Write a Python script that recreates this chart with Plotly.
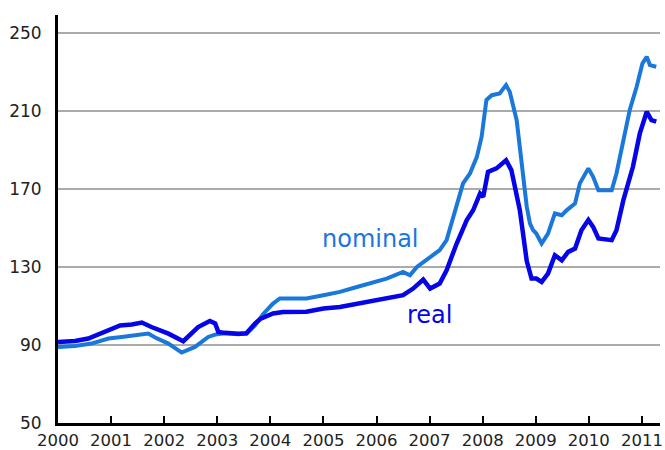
import plotly.graph_objects as go

# decimal-year positions and index values
nominal_t = [2000.00, 2000.32, 2000.63, 2000.95, 2001.20, 2001.51, 2001.70, 2001.83, 2002.08, 2002.33,
             2002.58, 2002.83, 2002.96, 2003.14, 2003.40, 2003.55, 2003.71, 2003.87, 2004.05, 2004.18,
             2004.68, 2005.00, 2005.31, 2005.63, 2005.94, 2006.19, 2006.50, 2006.63, 2006.76, 2006.94,
             2007.19, 2007.32, 2007.44, 2007.63, 2007.76, 2007.89, 2007.98, 2008.07, 2008.17, 2008.32,
             2008.44, 2008.51, 2008.64, 2008.76, 2008.83, 2008.89, 2008.95, 2009.01, 2009.11, 2009.23,
             2009.36, 2009.49, 2009.58, 2009.74, 2009.83, 2009.99, 2010.08, 2010.18, 2010.43, 2010.52,
             2010.65, 2010.77, 2010.90, 2011.01, 2011.09, 2011.15, 2011.27]
nominal_v = [89.0, 89.5, 90.7, 93.3, 94.1, 95.3, 95.8, 93.8, 90.7, 86.1,
             89.0, 94.1, 95.3, 96.0, 95.5, 95.8, 100.0, 106.0, 111.2, 113.8,
             113.8, 115.5, 117.2, 119.7, 122.3, 124.0, 127.4, 125.7, 130.0, 133.4,
             138.6, 143.7, 155.6, 172.8, 177.9, 186.4, 196.7, 215.5, 218.0, 218.9,
             223.2, 219.7, 205.2, 179.6, 160.8, 152.3, 148.8, 147.1, 142.0, 147.1,
             157.4, 156.5, 159.0, 162.5, 172.8, 180.5, 176.2, 169.3, 169.3, 177.9,
             195.0, 210.4, 222.3, 234.3, 237.7, 233.4, 232.6]

real_t = [2000.00, 2000.32, 2000.57, 2000.89, 2001.17, 2001.39, 2001.58, 2001.76, 2002.08, 2002.36,
          2002.64, 2002.86, 2002.96, 2003.02, 2003.14, 2003.40, 2003.55, 2003.71, 2003.82, 2004.05,
          2004.24, 2004.68, 2005.00, 2005.31, 2005.63, 2005.94, 2006.25, 2006.50, 2006.69, 2006.88,
          2007.01, 2007.19, 2007.32, 2007.51, 2007.70, 2007.82, 2007.95, 2008.01, 2008.10, 2008.26,
          2008.44, 2008.54, 2008.70, 2008.76, 2008.83, 2008.92, 2009.01, 2009.11, 2009.23, 2009.36,
          2009.49, 2009.61, 2009.74, 2009.86, 2009.99, 2010.08, 2010.18, 2010.43, 2010.52, 2010.65,
          2010.83, 2010.96, 2011.09, 2011.18, 2011.27]
real_v = [91.5, 92.0, 93.3, 96.7, 100.0, 100.5, 101.5, 99.2, 95.8, 91.9,
          99.2, 102.3, 101.0, 96.7, 96.2, 95.8, 96.0, 101.0, 103.5, 106.1,
          106.9, 107.0, 108.7, 109.5, 111.2, 112.9, 114.6, 115.5, 118.9, 123.5,
          118.9, 121.5, 128.3, 142.0, 154.0, 159.0, 167.6, 165.9, 178.7, 180.5,
          184.7, 179.6, 159.0, 145.0, 133.0, 124.0, 124.0, 122.3, 126.6, 136.0,
          133.4, 137.7, 139.4, 148.8, 154.0, 150.5, 144.6, 143.7, 148.8, 164.2,
          181.3, 198.4, 209.5, 205.2, 204.4]

year_ticks = list(range(2000, 2012))
year_labels = [str(y) for y in year_ticks]
value_ticks = [50, 90, 130, 170, 210, 250]

NOMINAL_COLOR = "#1a78dc"
REAL_COLOR = "#0505e8"

fig = go.Figure()
fig.add_trace(go.Scatter(x=nominal_t, y=nominal_v, mode="lines",
                         line=dict(color=NOMINAL_COLOR, width=4), name="nominal"))
fig.add_trace(go.Scatter(x=real_t, y=real_v, mode="lines",
                         line=dict(color=REAL_COLOR, width=4.5), name="real"))

fig.add_annotation(x=2005.89, y=144.2, text="nominal", showarrow=False,
                   font=dict(family="DejaVu Sans", size=24, color=NOMINAL_COLOR))
fig.add_annotation(x=2006.99, y=105.2, text="real", showarrow=False,
                   font=dict(family="DejaVu Sans", size=24, color=REAL_COLOR))

fig.update_layout(
    width=665, height=450,
    margin=dict(l=58, r=5, t=15, b=27),
    paper_bgcolor="white", plot_bgcolor="white",
    showlegend=False,
    font=dict(family="DejaVu Sans", size=17, color="#222222"),
)
fig.update_xaxes(
    range=[2000, 2011.34], tickvals=year_ticks, ticktext=year_labels,
    showgrid=False, zeroline=False, automargin=False,
    showline=True, linecolor="black", linewidth=3,
    ticks="inside", ticklen=7, tickwidth=2, tickcolor="black",
    tickfont=dict(size=16.5),
)
fig.update_yaxes(
    range=[50, 259.1], tickvals=value_ticks, automargin=False,
    showgrid=True, gridcolor="#aaaaaa", gridwidth=2,
    zeroline=False, showline=True, linecolor="black", linewidth=3,
    ticks="", ticklabelstandoff=10,
    tickfont=dict(size=17),
)

fig.write_html(
    "out.html",
    config={"displayModeBar": False},
    post_script="document.body.style.margin='0';document.body.style.overflow='hidden';",
)
